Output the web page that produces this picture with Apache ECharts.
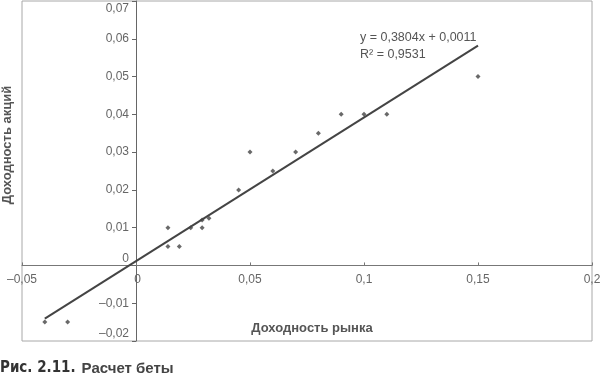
<!DOCTYPE html>
<html>
<head>
<meta charset="utf-8">
<script src="https://cdn.jsdelivr.net/npm/echarts@6/dist/echarts.min.js"></script>
<style>
html,body{margin:0;padding:0;background:#fff;}
#chart{width:600px;height:379px;}
</style>
</head>
<body>
<div id="chart"></div>
<script>
// Market return (x) vs stock return (y)
var marketReturns = [-0.04, -0.03, 0.014, 0.014, 0.019, 0.024, 0.029, 0.029, 0.032, 0.045, 0.05, 0.06, 0.07, 0.08, 0.09, 0.1, 0.11, 0.15];
var stockReturns  = [-0.015, -0.015, 0.01, 0.005, 0.005, 0.01, 0.012, 0.01, 0.0125, 0.02, 0.03, 0.025, 0.03, 0.035, 0.04, 0.04, 0.04, 0.05];
// Trend line endpoints (y = 0,3804x + 0,0011)
var trendX = [-0.04, 0.15];
var trendY = [-0.0141, 0.0582];
var xTicks = [-0.05, 0, 0.05, 0.1, 0.15, 0.2];
var yTicks = [-0.02, -0.01, 0, 0.01, 0.02, 0.03, 0.04, 0.05, 0.06, 0.07];
var equationText = 'y = 0,3804x + 0,0011';
var r2Text = 'R² = 0,9531';
var xName = 'Доходность рынка';
var yName = 'Доходность акций';
var captionBold = 'Рис. 2.11.';
var captionRest = 'Расчет беты';

function fmt(v) {
  var s = String(Math.round(v * 1000) / 1000).replace('.', ',');
  return s.replace('-', '\u2013');
}

var scatterData = marketReturns.map(function (x, i) { return [x, stockReturns[i]]; });
var trendData = trendX.map(function (x, i) { return [x, trendY[i]]; });

var W = 600, H = 379;
var gridL = 22, gridR = 8, gridT = 1, gridB = 38;
var plotW = W - gridL - gridR, plotH = H - gridT - gridB;
var xMin = xTicks[0], xMax = xTicks[xTicks.length - 1];
var yMin = yTicks[0], yMax = yTicks[yTicks.length - 1];
// offsets that place each axis on the other's zero (onZero handled manually)
var yAxisOffset = -((0 - xMin) / (xMax - xMin) * plotW);
var xAxisOffset = -((0 - yMin) / (yMax - yMin) * plotH);

var chart = echarts.init(document.getElementById('chart'), null, {renderer: 'canvas'});
var labelFont = "'Liberation Sans', Arial, sans-serif";
chart.setOption({
  animation: false,
  grid: {left: gridL, right: gridR, top: gridT, bottom: gridB, show: true, borderColor: '#a8a8a8', borderWidth: 1, outerBoundsMode: 'none', containLabel: false},
  xAxis: {
    type: 'value', min: xMin, max: xMax, interval: 0.05, position: 'bottom', offset: xAxisOffset,
    axisLine: {show: true, onZero: false, lineStyle: {color: '#777', width: 1}},
    axisTick: {show: true, inside: true, length: 3, lineStyle: {color: '#777'}},
    splitLine: {show: false},
    axisLabel: {
      color: '#666', fontSize: 12, fontFamily: labelFont, margin: 8, hideOverlap: false,
      formatter: function (v) {
        if (Math.abs(v) < 1e-9) return '{z|0}';
        return fmt(v);
      },
      rich: {z: {color: '#666', fontSize: 12, fontFamily: labelFont, padding: [0, 0, 0, 3]}}
    }
  },
  yAxis: {
    type: 'value', min: yMin, max: yMax, interval: 0.01, position: 'left', offset: yAxisOffset,
    axisLine: {show: true, onZero: false, lineStyle: {color: '#666', width: 1}},
    axisTick: {show: true, inside: false, length: 4, lineStyle: {color: '#666'}},
    splitLine: {show: false},
    axisLabel: {
      color: '#666', fontSize: 12, fontFamily: labelFont, margin: 7, hideOverlap: false,
      formatter: function (v) {
        var s = fmt(v);
        if (Math.abs(v - 0.07) < 1e-9) return '{t|' + s + '}';
        if (Math.abs(v) < 1e-9) return '{u|' + s + '}';
        if (Math.abs(v + 0.02) < 1e-9) return '{u|' + s + '}';
        return s;
      },
      rich: {
        t: {color: '#666', fontSize: 12, fontFamily: labelFont, padding: [16, 0, 0, 0]},
        u: {color: '#666', fontSize: 12, fontFamily: labelFont, padding: [0, 0, 14, 0]}
      }
    }
  },
  series: [
    {
      type: 'line', data: trendData, showSymbol: false, symbol: 'none',
      lineStyle: {color: '#444', width: 2}, z: 2
    },
    {
      type: 'scatter', data: scatterData, symbol: 'diamond', symbolSize: 5,
      itemStyle: {color: '#444'}, z: 3
    }
  ],
  graphic: [
    {type: 'text', left: 360, top: 31, style: {text: equationText, fill: '#555', fontSize: 12.5, fontFamily: labelFont}},
    {type: 'text', left: 360, top: 48, style: {text: r2Text, fill: '#555', fontSize: 12.5, fontFamily: labelFont}},
    {type: 'text', x: 312, y: 328, style: {text: xName, fill: '#555', fontSize: 13, fontWeight: 'bold', fontFamily: labelFont, align: 'center', verticalAlign: 'middle'}},
    {type: 'text', x: 7, y: 145, rotation: Math.PI / 2, style: {text: yName, fill: '#555', fontSize: 13, fontWeight: 'bold', fontFamily: labelFont, align: 'center', verticalAlign: 'middle'}},
    {type: 'text', left: 0, top: 361, style: {
      text: '{a|' + captionBold + '}{b|' + captionRest + '}',
      rich: {
        a: {fill: '#333', fontSize: 15, fontWeight: 'bold', fontFamily: "'Liberation Sans Narrow', 'DejaVu Sans Condensed', sans-serif", padding: [0, 6, 0, 0]},
        b: {fill: '#444', fontSize: 15, fontWeight: 'bold', fontFamily: labelFont}
      }
    }}
  ]
});
</script>
</body>
</html>
